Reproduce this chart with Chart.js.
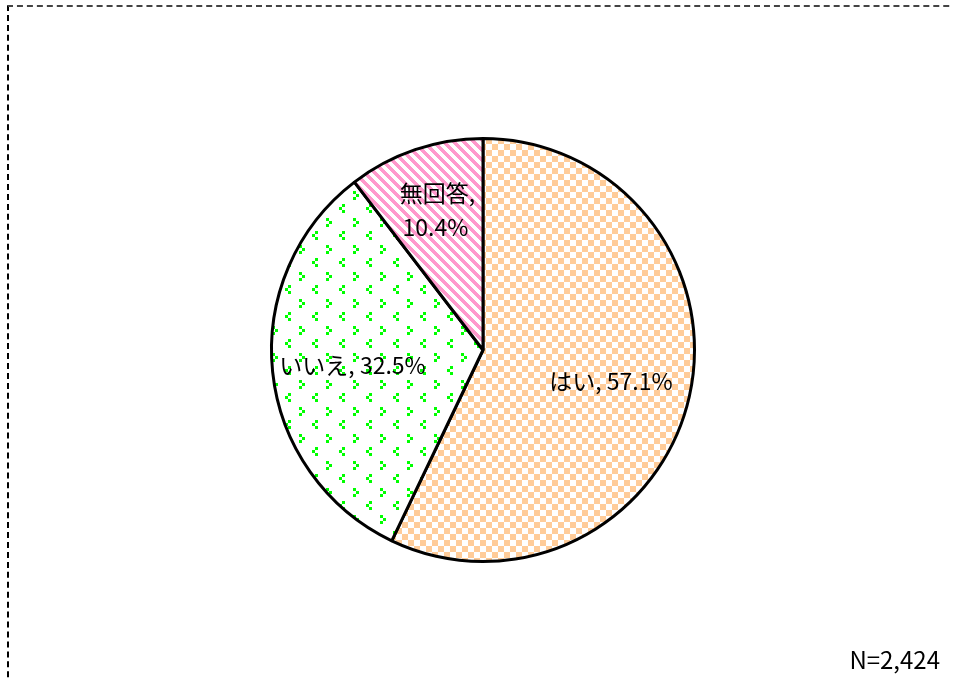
<!DOCTYPE html>
<html lang="ja">
<head>
<meta charset="utf-8">
<script src="https://cdn.jsdelivr.net/npm/chart.js@4"></script>
<style>
  body { margin: 0; background: #fff; }
  #wrap { position: relative; width: 953px; height: 681px; overflow: hidden; }
  #frame {
    position: absolute; left: 7px; top: 5px; width: 1000px; height: 720px;
    border-left: 2px dashed #000; border-top: 2px dashed #444;
  }
  #myChart { position: absolute; left: 0; top: 0; }
  #total {
    position: absolute; right: 13px; top: 641px;
    font: 24px "Noto Sans CJK JP", "Noto Sans", sans-serif; color: #000;
    line-height: 36px;
  }
</style>
</head>
<body>
<div id="wrap">
  <div id="frame"></div>
  <canvas id="myChart" width="953" height="681"></canvas>
  <div id="total">N=2,424</div>
</div>
<script>
const labels = ["はい", "いいえ", "無回答"];
const values = [57.1, 32.5, 10.4];

// fill patterns for the three slices
function makeTile(w, h, draw) {
  const c = document.createElement('canvas');
  c.width = w;
  c.height = h;
  const g = c.getContext('2d');
  g.fillStyle = '#fff';
  g.fillRect(0, 0, w, h);
  draw(g);
  return document.createElement('canvas').getContext('2d').createPattern(c, 'repeat');
}

const checker = makeTile(12, 12, g => {
  g.fillStyle = '#ffcc99';
  g.fillRect(0, 0, 6, 6);
  g.fillRect(6, 6, 6, 6);
});

const chevrons = makeTile(27, 27, g => {
  g.fillStyle = '#00ff00';
  // ">"
  g.fillRect(2, 2, 3, 3);
  g.fillRect(5, 5, 3, 3);
  g.fillRect(2, 8, 3, 3);
  // "<"
  g.fillRect(18, 15, 3, 3);
  g.fillRect(15, 18, 3, 3);
  g.fillRect(18, 21, 3, 3);
});

const stripes = makeTile(10, 10, g => {
  g.fillStyle = '#ff99cc';
  for (let y = 0; y < 10; y++) {
    for (let x = 0; x < 10; x++) {
      if (((x - y) % 10 + 10) % 10 < 5) g.fillRect(x, y, 1, 1);
    }
  }
});

const sliceLabels = {
  id: 'sliceLabels',
  afterDatasetsDraw(chart) {
    const ctx = chart.ctx;
    const arcs = chart.getDatasetMeta(0).data;
    ctx.save();
    ctx.font = '23px "Noto Sans CJK JP", sans-serif';
    ctx.fillStyle = '#000';
    ctx.textAlign = 'center';
    ctx.textBaseline = 'middle';
    arcs.forEach((arc, i) => {
      const mid = (arc.startAngle + arc.endAngle) / 2;
      const small = values[i] < 15;
      const r = arc.outerRadius * (small ? 0.70 : 0.62);
      const x = arc.x + Math.cos(mid) * r;
      const y = arc.y + Math.sin(mid) * r;
      if (small) {
        ctx.fillText(labels[i] + ',', x + 2, y - 17);
        ctx.fillText(values[i].toFixed(1) + '%', x, y + 17);
      } else {
        ctx.fillText(`${labels[i]}, ${values[i].toFixed(1)}%`, x, y + 2);
      }
    });
    ctx.restore();
  }
};

const pieChart = document.getElementById('myChart');
new Chart(pieChart, {
  type: 'pie',
  data: {
    labels: labels,
    datasets: [
      {
        data: values,
        backgroundColor: [checker, chevrons, stripes],
        borderColor: '#000',
        borderWidth: 3
      }
    ]
  },
  options: {
    responsive: false,
    animation: false,
    events: [],
    layout: {
      padding: { left: 270, right: 257, top: 137, bottom: 118 }
    },
    plugins: {
      legend: { display: false },
      tooltip: { enabled: false }
    }
  },
  plugins: [sliceLabels]
});
</script>
</body>
</html>
